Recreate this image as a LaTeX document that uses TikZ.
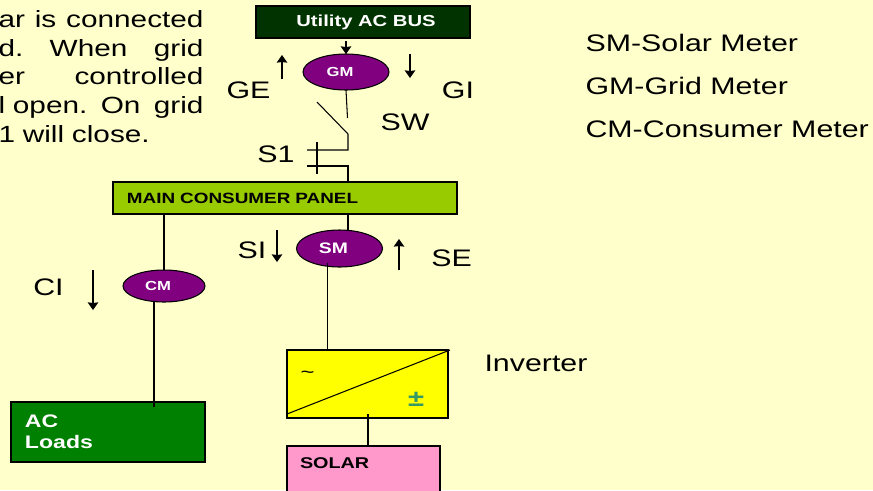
\documentclass[tikz,border=0pt]{standalone}
\usepackage{fontspec}
\setmainfont[FakeStretch=1.27]{Liberation Sans}
\definecolor{pagecream}{RGB}{255, 255, 204}
\definecolor{busgreen}{RGB}{0, 51, 0}
\definecolor{panelgreen}{RGB}{153, 204, 0}
\definecolor{meterpurple}{RGB}{128, 0, 128}
\definecolor{loadgreen}{RGB}{0, 128, 0}
\definecolor{solarpink}{RGB}{255, 153, 204}
\definecolor{invyellow}{RGB}{255, 255, 0}
\definecolor{dcgreen}{RGB}{51, 153, 102}
\usetikzlibrary{shapes.geometric, arrows.meta}

\begin{document}
\begin{tikzpicture}[x=0.03cm, y=-0.03cm, line width=0.9pt,
  box/.style={draw, rectangle, inner sep=0pt, outer sep=0pt},
  meter/.style={draw, ellipse, fill=meterpurple, text=white, inner sep=0pt, outer sep=0pt, font=\fontsize{11.2}{13}\selectfont\bfseries},
  tag/.style={inner sep=0pt, font=\fontsize{20.4}{24}\selectfont},
  flow/.style={-{Stealth[length=6.5pt, width=9pt, inset=0.5pt]}}
]
  % Background and page limits
  \fill[pagecream] (0,0) rectangle (873,490);
  \clip[use as bounding box] (0,0) rectangle (873,490);

  % Text cut by the page edge
  \node[anchor=north west, inner sep=0pt, text width=6.15cm, align=left, font=\fontsize{20}{24.5}\selectfont] (note) at (-2,10) {
    ar\hfill is\hfill connected\\
    d.\hfill When\hfill grid\\
    er\hfill controlled\\
    l open.\hfill On\hfill grid\\
    1 will close.
  };

  % Bus and main panel
  \node[box, fill=busgreen, text=white, minimum width=6.42cm, minimum height=0.96cm, font=\fontsize{13.6}{16}\selectfont\bfseries] (bus) at (363,22) {\hspace*{0.18cm}Utility AC BUS};
  \node[box, fill=panelgreen, text width=9.48cm, inner xsep=0.42cm, minimum height=0.96cm, align=left, font=\fontsize{12.7}{15}\selectfont\bfseries] (panel) at (285,198) {MAIN CONSUMER PANEL};

  % Meters
  \node[meter, minimum width=2.58cm, minimum height=1.08cm] (gm) at (346,72) {GM\kern0.36cm};
  \node[meter, minimum width=2.58cm, minimum height=1.11cm, font=\fontsize{13}{15}\selectfont\bfseries] (sm) at (339.5,248.5) {SM\kern0.36cm};
  \node[meter, minimum width=2.46cm, minimum height=0.96cm] (cm) at (164,286) {CM\kern0.36cm};

  % Inverter, solar and loads
  \node[box, fill=invyellow, minimum width=4.83cm, minimum height=2.04cm] (inverter) at (367.5,384) {};
  \node[box, fill=solarpink, anchor=north west, text width=3.81cm, inner xsep=0.39cm, align=left, text height=0.66cm, text depth=1.6cm, font=\fontsize{13.3}{16}\selectfont\bfseries] (solar) at (287,446) {SOLAR};
  \node[box, fill=loadgreen, text=white, text width=4.98cm, inner xsep=0.42cm, minimum height=1.8cm, align=left, font=\fontsize{15.5}{18.2}\selectfont\bfseries] (loads) at (108,432) {AC\\Loads};

  % Inverter symbols
  \coordinate (diag a) at (287,414);
  \coordinate (diag b) at (450,350);
  \draw (diag a) -- (diag b);
  \node[inner sep=0pt, font=\fontsize{16}{20}\selectfont] (ac sign) at (307.5,375) {\char`\~};
  \node[inner sep=0pt, text=dcgreen, font=\fontsize{19.6}{22}\selectfont\bfseries] (dc sign) at (416,399) {±};

  % Switch and S1 contact
  \coordinate (sw top) at (347.5,118);
  \coordinate (blade a) at (317,102);
  \coordinate (blade b) at (348,134);
  \coordinate (s1 up) at (348,150);
  \coordinate (s1 down) at (348,166);
  \coordinate (s1 a) at (307,150);
  \coordinate (s1 b) at (307,166);
  \coordinate (s1 c) at (317,142);
  \coordinate (s1 d) at (317,174);
  \draw (gm.south) -- (sw top);
  \draw (blade a) -- (blade b) -- (s1 up) -- (s1 a);
  \draw (s1 b) -- (s1 down) -- (panel.north -| s1 down);
  \draw (s1 c) -- (s1 d);

  % Connectors
  \coordinate (sm out) at (327.5,263);
  \coordinate (cm out) at (154,302);
  \coordinate (loads in) at (154,407);
  \coordinate (solar tap) at (368,414);
  \draw (panel.south -| s1 down) -- (sm.north -| s1 down);
  \draw (sm out) -- (inverter.north -| sm out);
  \draw (panel.south -| cm.north) -- (cm.north);
  \draw (cm out) -- (loads in);
  \draw (solar tap) -- (solar.north -| solar tap);
  \draw[flow] (bus.south -| gm.north) ++(0,3) -- (gm.north);

  % Flow arrows
  \coordinate (ge a) at (282,79);
  \coordinate (ge b) at (282,55);
  \coordinate (gi a) at (410,54);
  \coordinate (gi b) at (410,78);
  \coordinate (si a) at (277,230);
  \coordinate (si b) at (277,262);
  \coordinate (se a) at (399,270);
  \coordinate (se b) at (399,239);
  \coordinate (ci a) at (93,270);
  \coordinate (ci b) at (93,310);
  \draw[flow] (ge a) -- (ge b);
  \draw[flow] (gi a) -- (gi b);
  \draw[flow] (si a) -- (si b);
  \draw[flow] (se a) -- (se b);
  \draw[flow] (ci a) -- (ci b);

  % Labels
  \node[tag] (ge) at (248.5,90) {GE};
  \node[tag] (gi) at (458,90) {GI};
  \node[tag] (sw) at (405,122) {SW};
  \node[tag] (s1) at (276,154) {S1};
  \node[tag] (si) at (252,250) {SI};
  \node[tag] (se) at (451.5,258.5) {SE};
  \node[tag] (ci) at (48.5,287) {CI};
  \node[tag, anchor=base west] (inverter name) at (484,371) {Inverter};

  % Legend
  \node[tag, anchor=base west] (legend sm) at (585,51) {SM-Solar Meter};
  \node[tag, anchor=base west] (legend gm) at (585,94) {GM-Grid Meter};
  \node[tag, anchor=base west] (legend cm) at (585,137) {CM-Consumer Meter};
\end{tikzpicture}
\end{document}
